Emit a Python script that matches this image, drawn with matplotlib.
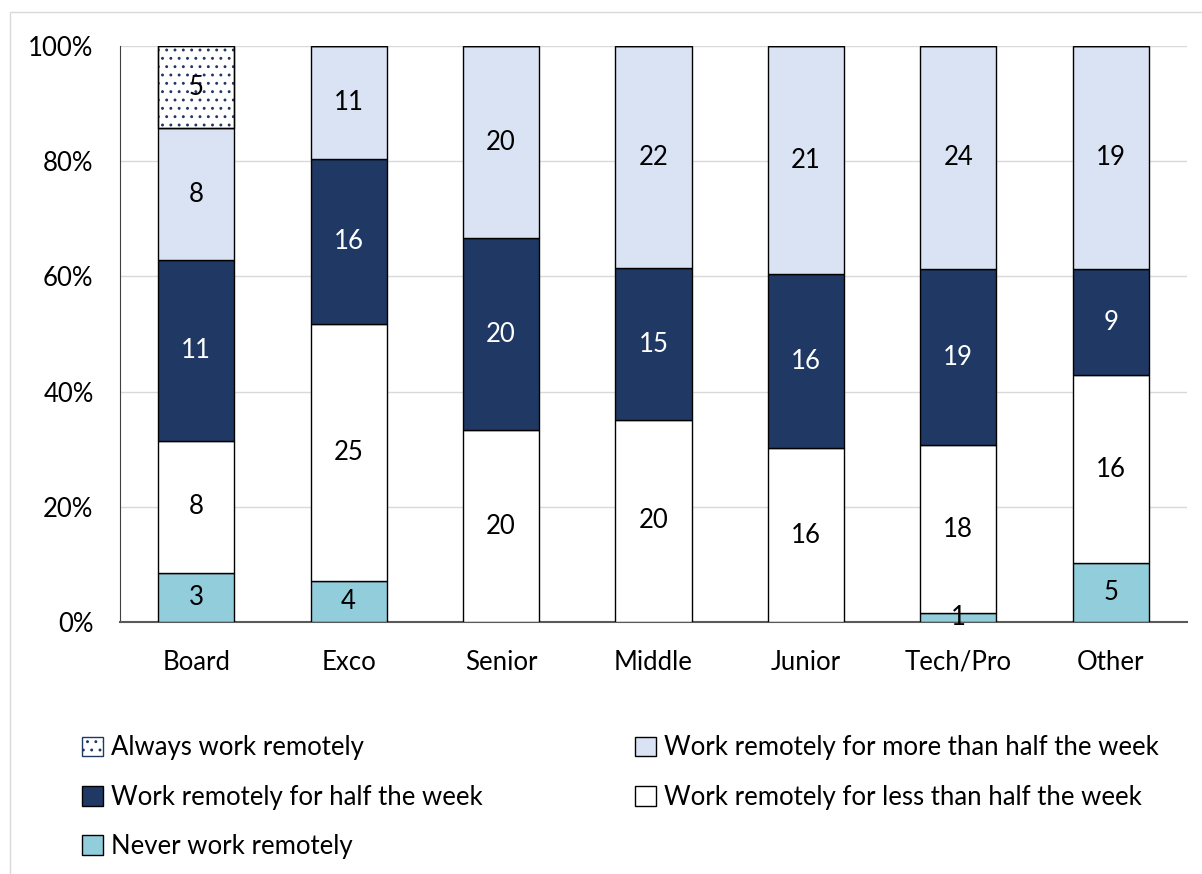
import matplotlib.pyplot as plt
import numpy as np
from matplotlib.patches import Rectangle

plt.rcParams['font.family'] = ['Lato', 'DejaVu Sans']
plt.rcParams['hatch.linewidth'] = 0.9

# ---------- data (counts per level) ----------
categories = ["Board", "Exco", "Senior", "Middle", "Junior", "Tech/Pro", "Other"]
never = [3, 4, 0, 0, 0, 1, 5]
less_half = [8, 25, 20, 20, 16, 18, 16]
half = [11, 16, 20, 15, 16, 19, 9]
more_half = [8, 11, 20, 22, 21, 24, 19]
always = [5, 0, 0, 0, 0, 0, 0]

series_names = [
    "Never work remotely",
    "Work remotely for less than half the week",
    "Work remotely for half the week",
    "Work remotely for more than half the week",
    "Always work remotely",
]
series = [never, less_half, half, more_half, always]
colors = ["#92CDDC", "#FFFFFF", "#1F3864", "#DAE3F3", "#FFFFFF"]
text_colors = ["black", "black", "white", "black", "black"]
FS = 18.5

# ---------- figure ----------
fig = plt.figure(figsize=(12.02, 8.74), dpi=100)
ax = fig.add_axes([120 / 1202, 1 - 622 / 874, (1187 - 120) / 1202, (622 - 46) / 874])

# outer chart border
fig.patches.append(Rectangle((10 / 1202, -0.1), 1.2, 1 - 12 / 874 + 0.1,
                             transform=fig.transFigure, fill=False,
                             edgecolor="#D9D9D9", linewidth=1.0))

counts = np.array(series, dtype=float)
totals = counts.sum(axis=0)
shares = counts / totals * 100
x = np.arange(len(categories))
bottom = np.zeros(len(categories))
handles = []
for i, name in enumerate(series_names):
    hatch = ".." if name.startswith("Always") else None
    bars = ax.bar(x, shares[i], 0.5, bottom=bottom, color=colors[i],
                  edgecolor="black", linewidth=1.0, hatch=hatch, zorder=3, label=name)
    if hatch:
        for b in bars:
            b.set_edgecolor("#1F3864")
        # black outline on top of the hatched bar
        ax.bar(x, shares[i], 0.5, bottom=bottom, fill=False,
               edgecolor="black", linewidth=1.0, zorder=4)
    handles.append(bars)
    for j in range(len(categories)):
        if counts[i, j] > 0:
            ax.text(x[j], bottom[j] + shares[i, j] / 2, f"{int(counts[i, j])}",
                    ha="center", va="center", fontsize=FS, color=text_colors[i], zorder=5)
    bottom += shares[i]

ax.set_xlim(-0.5, len(categories) - 0.5)
ax.set_ylim(0, 100)
ax.set_yticks(np.arange(0, 101, 20))
ax.set_yticklabels([f"{v}%" for v in range(0, 101, 20)], fontsize=FS)
ax.set_xticks(x)
ax.set_xticklabels(categories, fontsize=FS)
ax.tick_params(axis="x", length=0, pad=20)
ax.tick_params(axis="y", length=0, pad=19)
ax.grid(axis="y", color="#D9D9D9", linewidth=1.0, zorder=0)
for s in ["top", "right"]:
    ax.spines[s].set_visible(False)
ax.spines["left"].set_color("#404040")
ax.spines["bottom"].set_color("#595959")
ax.spines["bottom"].set_linewidth(1.5)

# legend in two separate columns
leg_kw = dict(loc="upper left", frameon=False, fontsize=FS, handlelength=0.8,
              handleheight=0.8, handletextpad=0.3, labelspacing=0.95, borderaxespad=0)
left = [4, 2, 0]
right = [3, 1]
fig.legend([handles[k] for k in left], [series_names[k] for k in left],
           bbox_to_anchor=(72 / 1202, 1 - 725 / 874), **leg_kw)
fig.legend([handles[k] for k in right], [series_names[k] for k in right],
           bbox_to_anchor=(625 / 1202, 1 - 725 / 874), **leg_kw)

fig.savefig("out.png", dpi=100)
